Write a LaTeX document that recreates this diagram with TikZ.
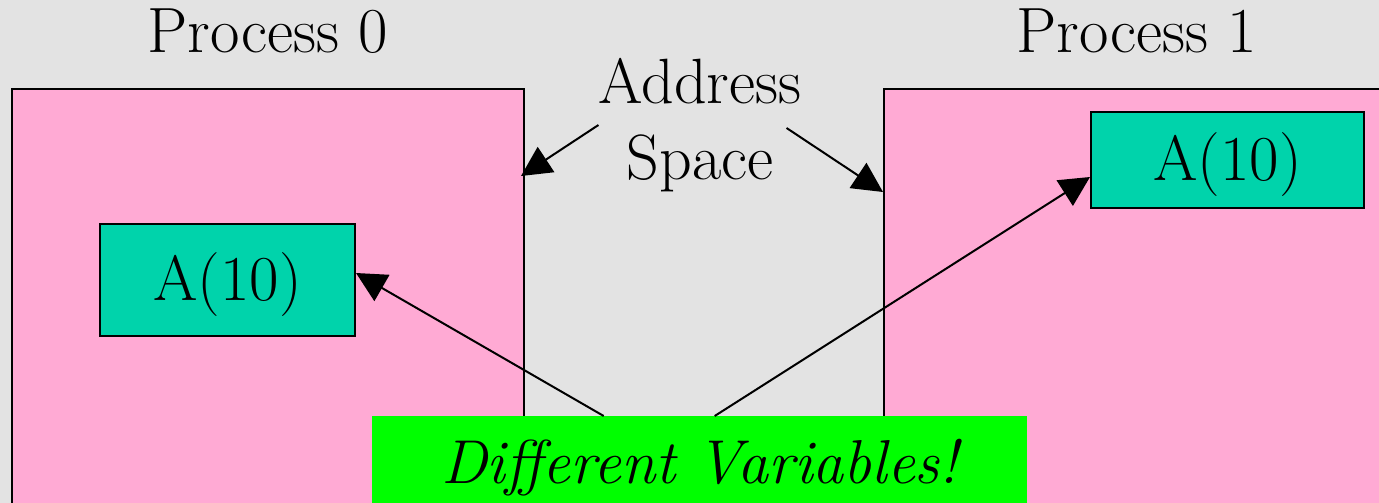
\documentclass[tikz,border=0pt]{standalone}
\usepackage{fontspec}
\usetikzlibrary{arrows.meta}
\definecolor{bgGray}{RGB}{227,227,227}
\definecolor{procPink}{RGB}{255,170,212}
\definecolor{varTeal}{RGB}{0,211,171}
\definecolor{noteGreen}{RGB}{0,255,0}
\tikzstyle{bigText} = [font=\fontsize{64}{76}\selectfont]
\tikzstyle{procBox} = [rectangle, draw=black, line width=2pt, fill=procPink, anchor=north west, minimum height=460pt]
\tikzstyle{varBox} = [rectangle, draw=black, line width=2pt, fill=varTeal, bigText, text height=52pt, text depth=12pt, inner sep=0pt]
\tikzstyle{myArrow} = [-{Triangle[length=30pt, width=30pt]}, line width=2pt]

\begin{document}
\begin{tikzpicture}[x=1pt, y=-1pt]
    \useasboundingbox (0,0) rectangle (1379,503);
    \fill[bgGray] (0,0) rectangle (1379,503);
    \clip (0,0) rectangle (1379,503);

    \node[procBox, minimum width=512pt] (procA) at (11,88) {};
    \node[procBox, minimum width=520pt] (procB) at (883,88) {};
    \node[bigText, anchor=base] (labelA) at (268,53) {Process 0};
    \node[bigText, anchor=base] (labelB) at (1137,53) {Process 1};
    \node[bigText, align=center, inner sep=0pt] (addr) at (700,125) {Address\\Space};
    \node[varBox, minimum width=255pt, minimum height=112pt] (varA) at (227.5,280) {A(10)};
    \node[varBox, minimum width=273pt, minimum height=96pt] (varB) at (1227.5,160) {A(10)};
    \node[fill=noteGreen, font=\fontsize{62}{76}\selectfont\itshape, anchor=north west, minimum width=655pt, text height=44pt, text depth=14pt, inner ysep=23pt] (diffNote) at (372,416) {Different Variables!};

    \draw[myArrow] (addr.west) -- ([xshift=-4pt, yshift=-88pt]procA.north east);
    \draw[myArrow] ([xshift=-15pt, yshift=-3pt]addr.east) -- ([yshift=-104pt]procB.north west);
    \draw[myArrow] ([xshift=-96pt]diffNote.north) -- ([yshift=7pt]varA.east);
    \draw[myArrow] ([xshift=15pt]diffNote.north) -- ([yshift=-17pt]varB.west);
\end{tikzpicture}
\end{document}
